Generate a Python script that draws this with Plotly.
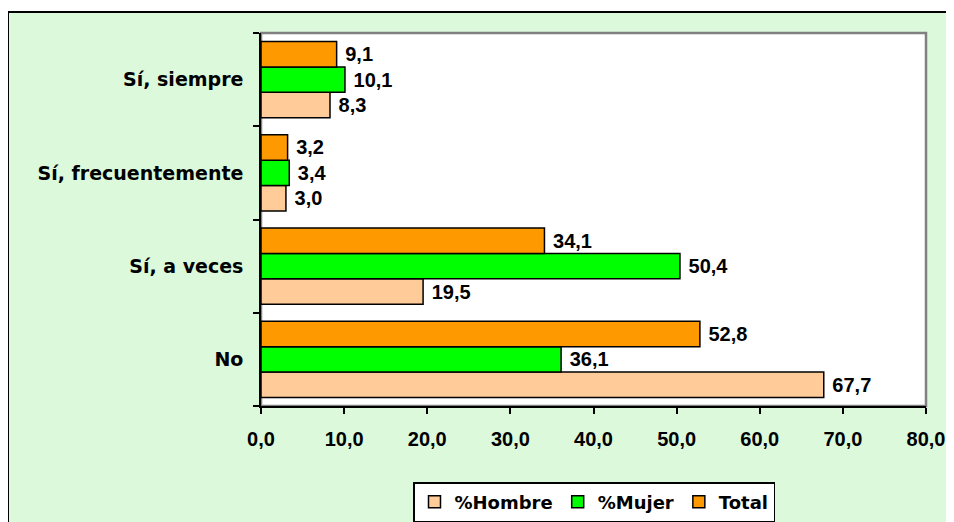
import plotly.graph_objects as go

categories = ["No", "Sí, a veces", "Sí, frecuentemente", "Sí, siempre"]
hombre = [67.7, 19.5, 3.0, 8.3]
mujer = [36.1, 50.4, 3.4, 10.1]
total = [52.8, 34.1, 3.2, 9.1]
tick_vals = [0, 10, 20, 30, 40, 50, 60, 70, 80]

# page body has an 8px margin: figure pixel = window pixel - 8
OFF = 8
W, H = 954, 522
ml = 261 - OFF
mt = 33 - OFF
mr = (W + OFF) - 926
mb = (H + OFF) - 406
NUMFONT = "Liberation Sans, Arial, sans-serif"
CATFONT = "DejaVu Sans, Verdana, sans-serif"

fig = go.Figure()
series = [("%Hombre", hombre, "#FFCC99"), ("%Mujer", mujer, "#00FF00"), ("Total", total, "#FF9900")]
for name, vals, col in series:
    fig.add_trace(go.Bar(
        y=categories, x=vals, name=name, orientation="h",
        marker=dict(color=col, line=dict(color="black", width=1.5)),
        text=[" " + f"{v:.1f}".replace(".", ",") for v in vals],
        textposition="outside", cliponaxis=False, constraintext="none",
        textfont=dict(family=NUMFONT, size=20, color="black", weight="bold"),
    ))

pw = W - ml - mr
ph = H - mt - mb
def px_x(p):
    return (p - OFF - ml) / pw
def px_y(p):
    return (H - mb - (p - OFF)) / ph

shapes = [
    dict(type="rect", xref="paper", yref="paper", layer="below",
         x0=px_x(8), x1=px_x(1000), y0=px_y(600), y1=px_y(12),
         fillcolor="#dcf9dc", line=dict(color="black", width=2)),
    dict(type="rect", xref="paper", yref="paper", layer="below",
         x0=0, x1=1, y0=0, y1=1,
         fillcolor="white", line=dict(color="#808080", width=2.5)),
]

fig.update_layout(
    width=W, height=H,
    margin=dict(l=ml, r=mr, t=mt, b=mb, autoexpand=False),
    paper_bgcolor="white", plot_bgcolor="white",
    barmode="group", bargap=0.18, bargroupgap=0,
    separators=",.",
    font=dict(family=NUMFONT, size=16, color="black", weight="bold"),
    shapes=shapes,
    showlegend=True,
    legend=dict(orientation="h", x=px_x(594), xanchor="center", y=px_y(482), yanchor="top",
                bgcolor="white", bordercolor="black", borderwidth=1.5,
                font=dict(family=CATFONT, size=18, color="black", weight="bold"),
                traceorder="normal"),
    xaxis=dict(range=[0, 80], tickvals=tick_vals, tickformat=".1f",
               showgrid=False, zeroline=False, showline=True, linecolor="black", linewidth=1.5,
               ticks="outside", ticklen=6, tickcolor="black", tickwidth=1.5,
               tickfont=dict(family=NUMFONT, size=20, color="black", weight="bold"),
               ticklabelstandoff=8),
    yaxis=dict(categoryorder="array", categoryarray=categories,
               showgrid=False, showline=True, linecolor="black", linewidth=1.5,
               ticks="outside", ticklen=6, tickcolor="black", tickwidth=1.5, tickson="boundaries",
               tickfont=dict(family=CATFONT, size=19, color="black", weight="bold"),
               ticklabelstandoff=12),
)

fig.write_html("out.html")
